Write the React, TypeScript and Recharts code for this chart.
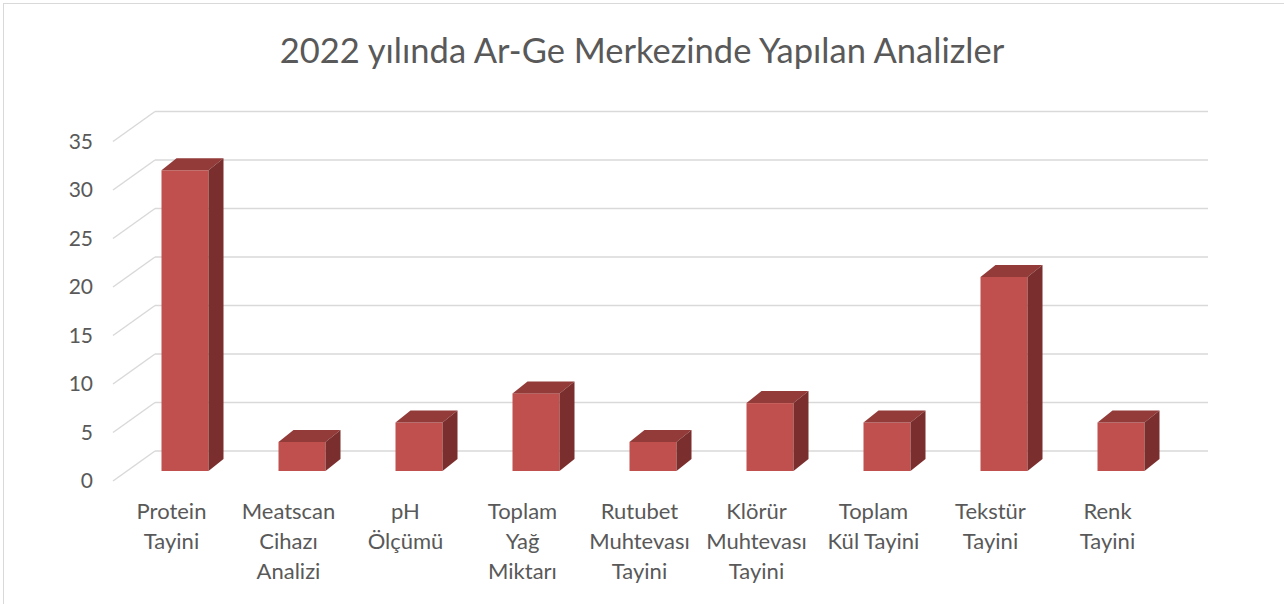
import React from "react";
import { BarChart, Bar, XAxis, YAxis, CartesianGrid } from "recharts";

const categories = [
  "Protein Tayini",
  "Meatscan Cihazı Analizi",
  "pH Ölçümü",
  "Toplam Yağ Miktarı",
  "Rutubet Muhtevası Tayini",
  "Klörür Muhtevası Tayini",
  "Toplam Kül Tayini",
  "Tekstür Tayini",
  "Renk Tayini",
];

// how excel wrapped each label
const tickLines = [
  ["Protein", "Tayini"],
  ["Meatscan", "Cihazı", "Analizi"],
  ["pH", "Ölçümü"],
  ["Toplam", "Yağ", "Miktarı"],
  ["Rutubet", "Muhtevası", "Tayini"],
  ["Klörür", "Muhtevası", "Tayini"],
  ["Toplam", "Kül Tayini"],
  ["Tekstür", "Tayini"],
  ["Renk", "Tayini"],
];

const counts = [31, 3, 5, 8, 3, 7, 5, 20, 5];
const yTicks = [0, 5, 10, 15, 20, 25, 30, 35];

const data = categories.map((name, i) => ({ name, value: counts[i], lines: tickLines[i] }));

const FONT = "Lato, 'Noto Sans', sans-serif";
const TEXT = "#595959";
const GRID = "#D9D9D9";

// 3d look: floor depth and bar depth
const DX = 42;
const DY = 30;
const OX = 13.5;
const OY = 10;
const BX = 15;
const BY = 12;

const gridLine = (p: any) => {
  const { x1, y1, x2 } = p;
  return (
    <g key={p.key}>
      <line x1={x1} y1={y1} x2={x1 + DX} y2={y1 - DY} stroke={GRID} strokeWidth={1.5} />
      <line x1={x1 + DX} y1={y1 - DY} x2={x2 + DX} y2={y1 - DY} stroke={GRID} strokeWidth={1.5} />
    </g>
  );
};

const Bar3D = (props: any) => {
  const { x, y, width, height } = props;
  const fx = x + OX;
  const fy = y - OY;
  const top = `M${fx},${fy} L${fx + BX},${fy - BY} L${fx + width + BX},${fy - BY} L${fx + width},${fy} Z`;
  const side = `M${fx + width},${fy} L${fx + width + BX},${fy - BY} L${fx + width + BX},${fy + height - BY} L${fx + width},${fy + height} Z`;
  return (
    <g>
      <rect x={fx} y={fy} width={width} height={height} fill="#C0504D" />
      <path d={top} fill="#923B39" />
      <path d={side} fill="#7A2E2D" />
    </g>
  );
};

const CategoryTick = (props: any) => {
  const { x, y, index } = props;
  const lines = data[index] ? data[index].lines : [];
  return (
    <text x={x} y={y} textAnchor="middle" fill={TEXT} fontSize={22} fontFamily={FONT}>
      {lines.map((l: string, i: number) => (
        <tspan key={i} x={x} dy={i === 0 ? 28 : 30}>
          {l}
        </tspan>
      ))}
    </text>
  );
};

export default function App() {
  return (
    <div style={{ position: "absolute", left: 0, top: 0, width: 1284, height: 604, overflow: "hidden", background: "#fff" }}>
      <div
        style={{
          position: "absolute",
          left: 3,
          top: 3,
          width: 1320,
          height: 700,
          border: `1.5px solid ${GRID}`,
        }}
      />
      <div
        style={{
          position: "absolute",
          top: 30,
          left: 0,
          width: 1284,
          textAlign: "center",
          fontFamily: FONT,
          fontSize: 34.5,
          lineHeight: "40px",
          color: TEXT,
        }}
      >
        2022 yılında Ar-Ge Merkezinde Yapılan Analizler
      </div>
      <BarChart
        width={1284}
        height={604}
        data={data}
        margin={{ top: 141.5, right: 118, left: 0, bottom: 0 }}
        barSize={47}
      >
        <CartesianGrid vertical={false} horizontal={gridLine} />
        <XAxis
          dataKey="name"
          interval={0}
          tickLine={false}
          axisLine={false}
          height={123}
          tickMargin={4}
          tick={<CategoryTick />}
        />
        <YAxis
          width={113}
          domain={[0, 35]}
          ticks={yTicks}
          tickLine={false}
          axisLine={false}
          tickMargin={14}
          tick={{ fontSize: 21, fill: TEXT, fontFamily: FONT }}
        />
        <Bar dataKey="value" shape={Bar3D} isAnimationActive={false} />
      </BarChart>
    </div>
  );
}
